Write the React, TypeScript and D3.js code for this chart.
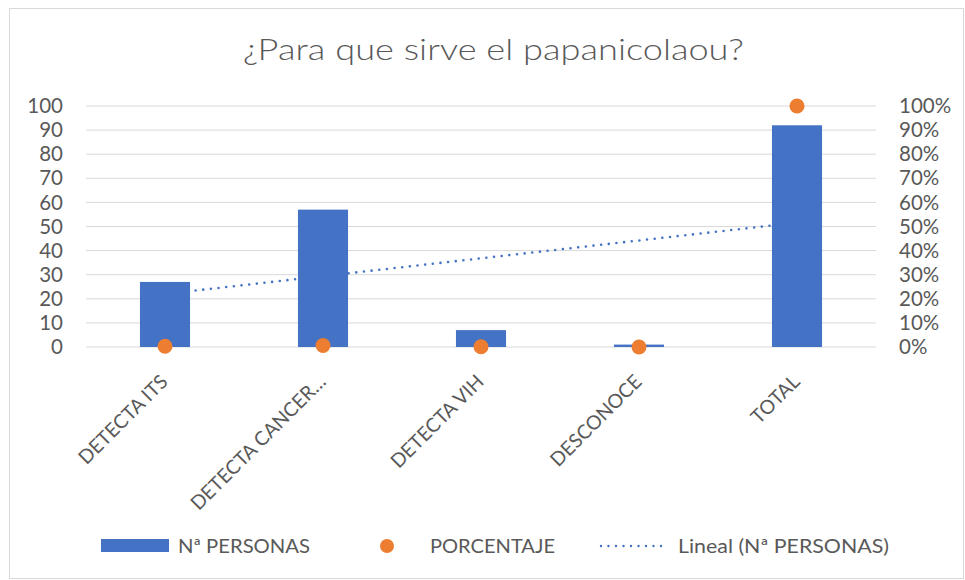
import React from "react";
import * as d3 from "d3";

const categories = ["DETECTA ITS", "DETECTA CANCER…", "DETECTA VIH", "DESCONOCE", "TOTAL"];
const personas = [27, 57, 7, 1, 92];
const porcentaje = [0.29, 0.62, 0.08, 0.01, 100];
const leftTicks = [0, 10, 20, 30, 40, 50, 60, 70, 80, 90, 100];
const rightTicks = [0, 0.1, 0.2, 0.3, 0.4, 0.5, 0.6, 0.7, 0.8, 0.9, 1.0];
const title = "¿Para que sirve el papanicolaou?";
const legendLabels = ["Nª PERSONAS", "PORCENTAJE", "Lineal (Nª PERSONAS)"];

const W = 965;
const H = 580;
const FONT = "Lato, 'Open Sans', sans-serif";
const TXT = "#595959";
const GRID = "#d9d9d9";
const BLUE = "#4472C4";
const ORANGE = "#ED7D31";

export default function App() {
  const plotL = 86, plotR = 876, plotT = 106, plotB = 347;
  const x = d3.scalePoint<string>().domain(categories).range([plotL, plotR]).padding(0.5);
  const step = x.step();
  const barW = step * 0.317;
  const y = d3.scaleLinear().domain([0, 100]).range([plotB, plotT]);
  const yR = d3.scaleLinear().domain([0, 1]).range([plotB, plotT]);

  // linear trendline (least squares) over category index 1..n
  const n = personas.length;
  const xs = personas.map((_, i) => i + 1);
  const mx = d3.mean(xs) as number;
  const my = d3.mean(personas) as number;
  const slope =
    d3.sum(xs.map((xi, i) => (xi - mx) * (personas[i] - my))) /
    d3.sum(xs.map((xi) => (xi - mx) ** 2));
  const icpt = my - slope * mx;
  const trend = xs.map((xi, i) => [x(categories[i]) as number, y(icpt + slope * xi)] as [number, number]);
  const trendPath = d3.line()([trend[0], trend[n - 1]]) as string;

  return (
    <svg width={W} height={H} style={{ position: "absolute", left: 0, top: 0, background: "#fff" }} fontFamily={FONT}>
      <rect x={9.5} y={8.5} width={954} height={570} fill="#fff" stroke={GRID} strokeWidth={1} />
      <text x={493.5} y={60} textAnchor="middle" fontSize={30} fontWeight={300} fill={TXT} textLength={501} lengthAdjust="spacingAndGlyphs">{title}</text>

      {leftTicks.map((t) => (
        <line key={"g" + t} x1={plotL} x2={plotR} y1={y(t)} y2={y(t)} stroke={GRID} strokeWidth={1} />
      ))}
      {leftTicks.map((t) => (
        <text key={"l" + t} x={63} y={y(t)} dy="0.35em" textAnchor="end" fontSize={20.5} fill={TXT}>{t}</text>
      ))}
      {rightTicks.map((t) => (
        <text key={"r" + t} x={899} y={yR(t)} dy="0.35em" textAnchor="start" fontSize={20.5} fill={TXT}>
          {d3.format(".0%")(t)}
        </text>
      ))}

      <path d={trendPath} fill="none" stroke={BLUE} strokeWidth={2.6} strokeDasharray="0 7.7" strokeLinecap="round" />

      {personas.map((v, i) => (
        <rect key={"b" + i} x={(x(categories[i]) as number) - barW / 2} y={y(v)} width={barW} height={y(0) - y(v)} fill={BLUE} />
      ))}
      {porcentaje.map((v, i) => (
        <circle key={"p" + i} cx={x(categories[i]) as number} cy={y(v)} r={7.5} fill={ORANGE} />
      ))}

      {categories.map((c) => (
        <text key={"c" + c} transform={`translate(${(x(c) as number) + 4},383) rotate(-45)`} textAnchor="end" fontSize={19.5} fill={TXT}>
          {c}
        </text>
      ))}

      <rect x={101} y={539} width={68} height={13} fill={BLUE} />
      <text x={178} y={546} dy="0.35em" fontSize={19.5} fill={TXT} textLength={132} lengthAdjust="spacingAndGlyphs">{legendLabels[0]}</text>
      <circle cx={387} cy={546} r={7} fill={ORANGE} />
      <text x={430} y={546} dy="0.35em" fontSize={19.5} fill={TXT} textLength={125} lengthAdjust="spacingAndGlyphs">{legendLabels[1]}</text>
      <line x1={601} x2={668} y1={546} y2={546} stroke={BLUE} strokeWidth={2.4} strokeDasharray="0 7.5" strokeLinecap="round" />
      <text x={678} y={546} dy="0.35em" fontSize={19.5} fill={TXT} textLength={211} lengthAdjust="spacingAndGlyphs">{legendLabels[2]}</text>
    </svg>
  );
}
